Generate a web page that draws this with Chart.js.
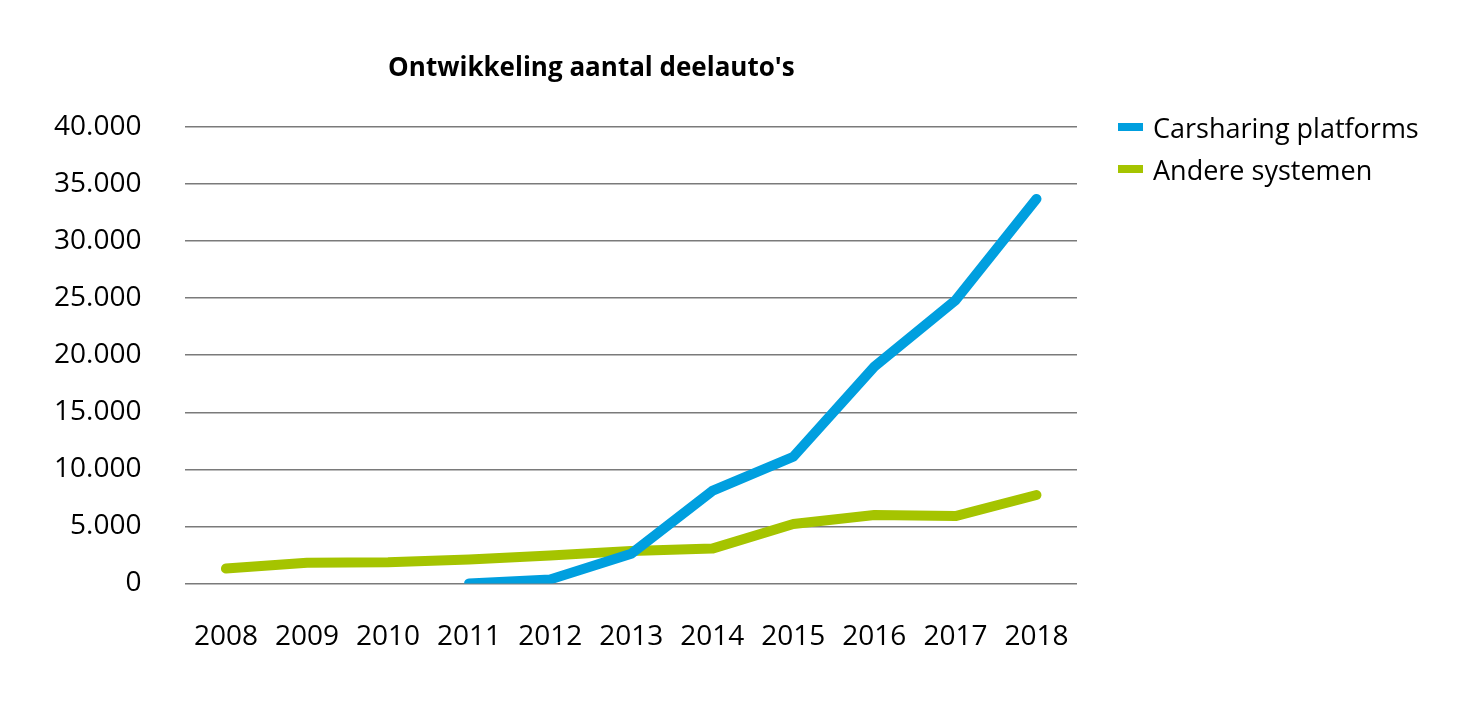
<!DOCTYPE html>
<html>
<head>
<meta charset="utf-8">
<script src="https://cdn.jsdelivr.net/npm/chart.js@4"></script>
<style>
  html, body { margin: 0; padding: 0; background: #fff; }
  #wrap { position: relative; width: 1479px; height: 717px; }
  #legend { position: absolute; left: 1118px; top: 106px; font-family: 'Open Sans', sans-serif; font-size: 27px; color: #000; }
  #legend .item { display: flex; align-items: center; height: 42px; white-space: nowrap; }
  #legend .swatch { width: 25px; height: 8px; margin-right: 10px; }
</style>
</head>
<body>
<div id="wrap">
  <canvas id="deelChart" width="1479" height="717"></canvas>
  <div id="legend"></div>
</div>
<script>
const years = ['2008', '2009', '2010', '2011', '2012', '2013', '2014', '2015', '2016', '2017', '2018'];
const platforms = [null, null, null, 0, 350, 2600, 8100, 11100, 19000, 24800, 33700];
const andere = [1300, 1800, 1850, 2100, 2450, 2850, 3050, 5200, 6000, 5900, 7750];
const chartTitle = "Ontwikkeling aantal deelauto's";

const FONT = "'Open Sans', sans-serif";

// title sits left of plot centre in the original, so draw it ourselves
const titlePlugin = {
    id: 'offsetTitle',
    afterDraw(chart) {
        const { ctx, chartArea } = chart;
        ctx.save();
        ctx.font = `bold 26px ${FONT}`;
        ctx.fillStyle = '#000';
        ctx.textAlign = 'center';
        ctx.textBaseline = 'middle';
        ctx.fillText(chartTitle, chartArea.left + 406, chartArea.top - 58);
        ctx.restore();
    }
};

const chart = new Chart(document.getElementById('deelChart'), {
    type: 'line',
    data: {
        labels: years,
        datasets: [
            {
                label: 'Carsharing platforms',
                data: platforms,
                borderColor: '#009fdf',
                backgroundColor: '#009fdf',
                borderWidth: 10,
                borderCapStyle: 'round',
                borderJoinStyle: 'round',
                pointRadius: 0,
                tension: 0
            },
            {
                label: 'Andere systemen',
                data: andere,
                borderColor: '#a5c400',
                backgroundColor: '#a5c400',
                borderWidth: 10,
                borderCapStyle: 'round',
                borderJoinStyle: 'round',
                pointRadius: 0,
                tension: 0
            }
        ]
    },
    options: {
        responsive: false,
        animation: false,
        layout: { padding: { top: 127, left: 10, right: 402, bottom: 34 } },
        plugins: {
            title: { display: false },
            tooltip: { enabled: false },
            legend: { display: false }
        },
        scales: {
            x: {
                offset: true,
                grid: { display: false },
                border: { display: false },
                ticks: {
                    color: '#000',
                    font: { family: FONT, size: 28 },
                    padding: 29,
                    maxRotation: 0
                }
            },
            y: {
                min: 0,
                max: 40000,
                border: { display: false },
                grid: { color: '#7a7a7a', lineWidth: 1.5, drawTicks: false },
                ticks: {
                    stepSize: 5000,
                    color: '#000',
                    font: { family: FONT, size: 28 },
                    padding: 44,
                    callback: v => v.toLocaleString('nl-NL')
                }
            }
        }
    },
    plugins: [titlePlugin]
});

// html legend built from the datasets
const legendEl = document.getElementById('legend');
chart.data.datasets.forEach(ds => {
    const item = document.createElement('div');
    item.className = 'item';
    item.innerHTML = `<span class="swatch" style="background:${ds.borderColor}"></span><span>${ds.label}</span>`;
    legendEl.appendChild(item);
});
</script>
</body>
</html>
